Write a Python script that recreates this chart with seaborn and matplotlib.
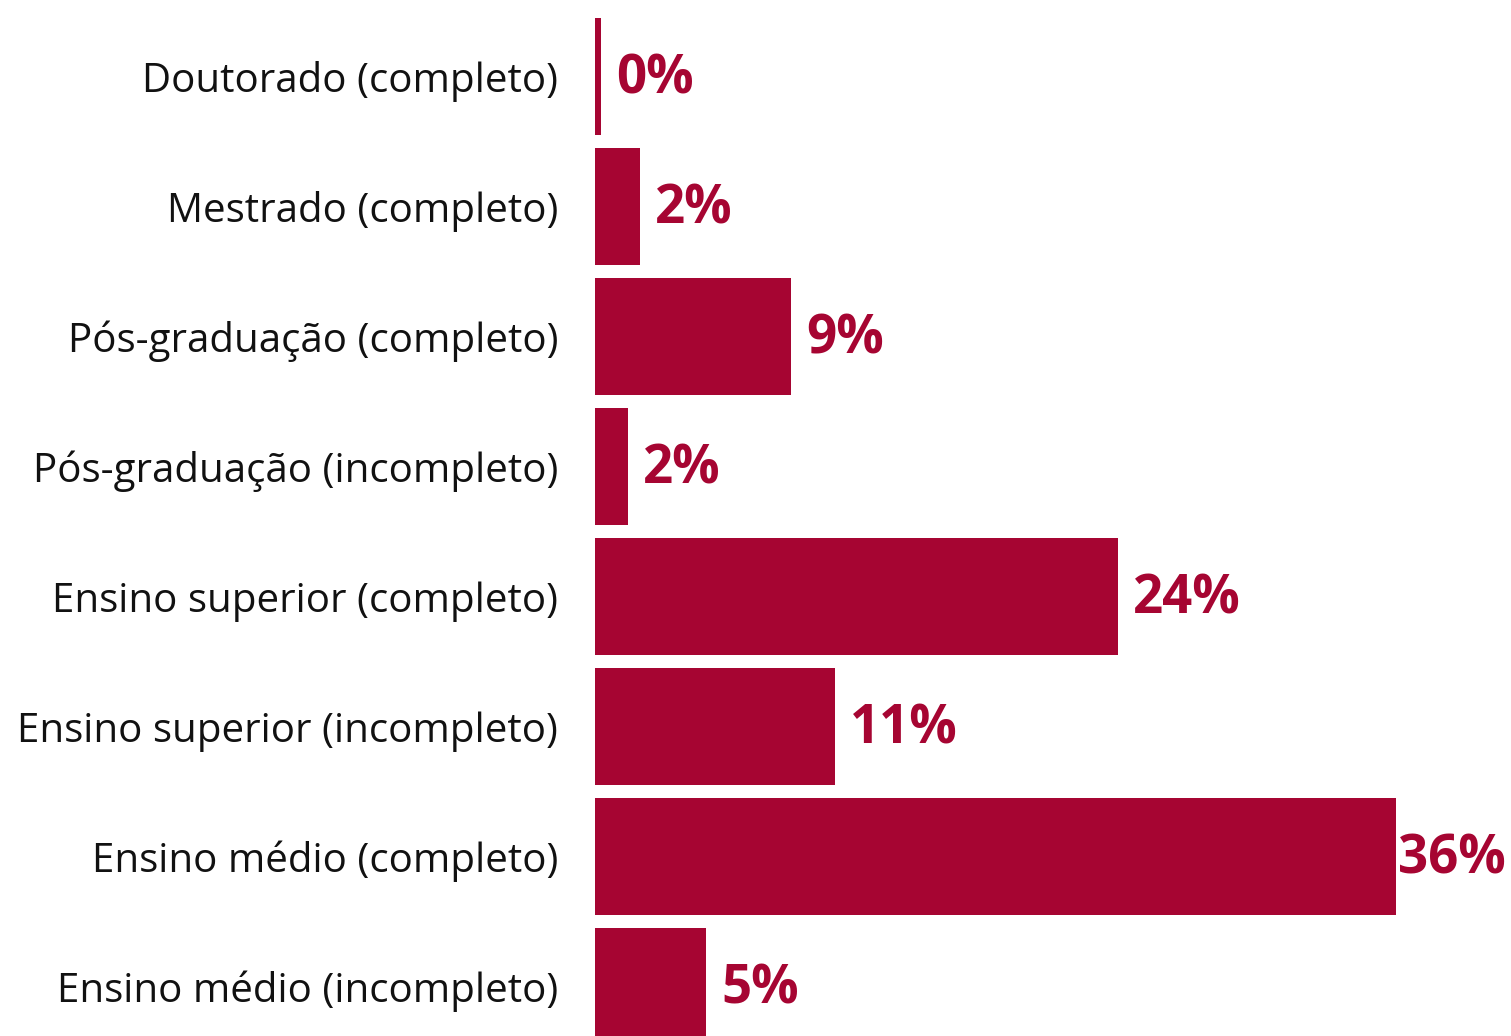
import matplotlib
matplotlib.use("Agg")
import matplotlib.pyplot as plt
import seaborn as sns
import pandas as pd

categories = [
    "Doutorado (completo)",
    "Mestrado (completo)",
    "Pós-graduação (completo)",
    "Pós-graduação (incompleto)",
    "Ensino superior (completo)",
    "Ensino superior (incompleto)",
    "Ensino médio (completo)",
    "Ensino médio (incompleto)",
]
values = [0.27, 2.0, 8.8, 1.5, 23.5, 10.8, 36.0, 5.0]
labels = ["0%", "2%", "9%", "2%", "24%", "11%", "36%", "5%"]

color = "#A60532"

sns.set_theme(style="white")
plt.rcParams["font.family"] = ["Open Sans", "DejaVu Sans"]

df = pd.DataFrame({"cat": categories, "val": values})

W, H = 1511, 1036
fig = plt.figure(figsize=(W / 100, H / 100), dpi=100)
ax = fig.add_axes([595 / W, 0, (W - 595) / W, 1])

sns.barplot(data=df, x="val", y="cat", orient="h", color=color, width=0.9,
            saturation=1, linewidth=0, ax=ax)

xmax = (W - 595) / 22.25
ax.set_xlim(0, xmax)
ax.set_ylim(7.38, -0.59)

for s in ax.spines.values():
    s.set_visible(False)
ax.set_xticks([])
ax.set_xlabel("")
ax.set_ylabel("")
ax.tick_params(axis="y", length=0, pad=26.5, labelsize=29, labelcolor="#111111")

off = 15 / 22.25
for i, (v, lab) in enumerate(zip(values, labels)):
    x = v + off
    if v > 30:
        x = v + 2 / 22.25
    ax.text(x, i + 0.02, lab, va="center", ha="left", fontsize=38,
            fontweight="bold", color=color)

fig.savefig("out.png", dpi=100)
